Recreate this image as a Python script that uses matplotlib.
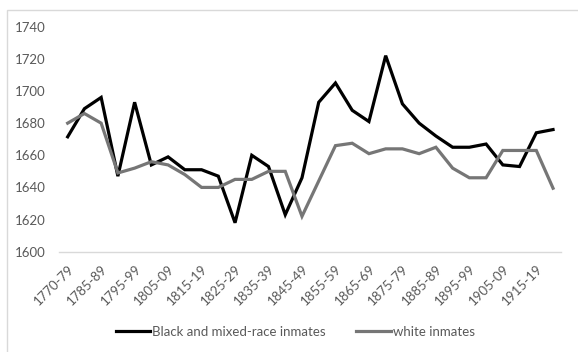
import matplotlib.pyplot as plt
from matplotlib.patches import Rectangle

# periodos (cada punto es un quinquenio, salvo el primero)
periodos = ["1770-79", "1780-84", "1785-89", "1790-94", "1795-99", "1800-04",
            "1805-09", "1810-14", "1815-19", "1820-24", "1825-29", "1830-34",
            "1835-39", "1840-44", "1845-49", "1850-54", "1855-59", "1860-64",
            "1865-69", "1870-74", "1875-79", "1880-84", "1885-89", "1890-94",
            "1895-99", "1900-04", "1905-09", "1910-14", "1915-19", "1920-24"]

negros = [1671.5, 1689, 1696, 1647, 1693, 1654, 1659, 1651, 1651, 1647,
          1618, 1660, 1653, 1623, 1646, 1693, 1705, 1688, 1681, 1722,
          1692, 1680, 1672, 1665, 1665, 1667, 1654, 1653, 1674, 1676]

blancos = [1680, 1686, 1680, 1649, 1652, 1656, 1654, 1648, 1640, 1640,
           1645, 1645, 1650, 1650, 1622, 1644, 1666, 1667.5, 1661, 1664,
           1664, 1661, 1665, 1652, 1646, 1646, 1663, 1663, 1663, 1639.5]

etiquetas_y = [1600, 1620, 1640, 1660, 1680, 1700, 1720, 1740]

plt.rcParams['font.family'] = ['Lato', 'DejaVu Sans']
gris_texto = '#595959'

fig = plt.figure(figsize=(5.78, 3.52), dpi=100)
# marco exterior del grafico (solo se ven los bordes izquierdo y superior)
fig.patches.append(Rectangle((6.5 / 578, -0.1), 0.99, 1.1 - 9.5 / 352,
                             transform=fig.transFigure, fill=False,
                             edgecolor='#d9d9d9', linewidth=1))

ax = fig.add_axes([0.1026, 0.285, 0.8687, 0.639])
x = list(range(len(periodos)))
ax.plot(x, negros, color='black', linewidth=2.3, solid_joinstyle='miter',
        label='Black and mixed-race inmates')
ax.plot(x, blancos, color='#767676', linewidth=2.3, solid_joinstyle='miter',
        label='white inmates')

ax.set_xlim(-0.5, len(periodos) - 0.5)
ax.set_ylim(1600, 1740)
ax.set_yticks(etiquetas_y)
ax.set_xticks(x[::2])
ax.set_xticklabels(periodos[::2], rotation=45, ha='right',
                   rotation_mode='anchor')
ax.tick_params(axis='both', length=0, labelsize=9.5, labelcolor=gris_texto)
ax.tick_params(axis='y', pad=10)
ax.tick_params(axis='x', pad=8)

for s in ['top', 'right', 'left']:
    ax.spines[s].set_visible(False)
ax.spines['bottom'].set_color('#d9d9d9')
ax.spines['bottom'].set_linewidth(1)

fig.legend(loc='center', bbox_to_anchor=(0.511, 0.057), ncol=2, frameon=False,
           fontsize=9.5, labelcolor=gris_texto, handlelength=2.6,
           handletextpad=0.15, columnspacing=2.3)

fig.savefig('out.png', dpi=100)
